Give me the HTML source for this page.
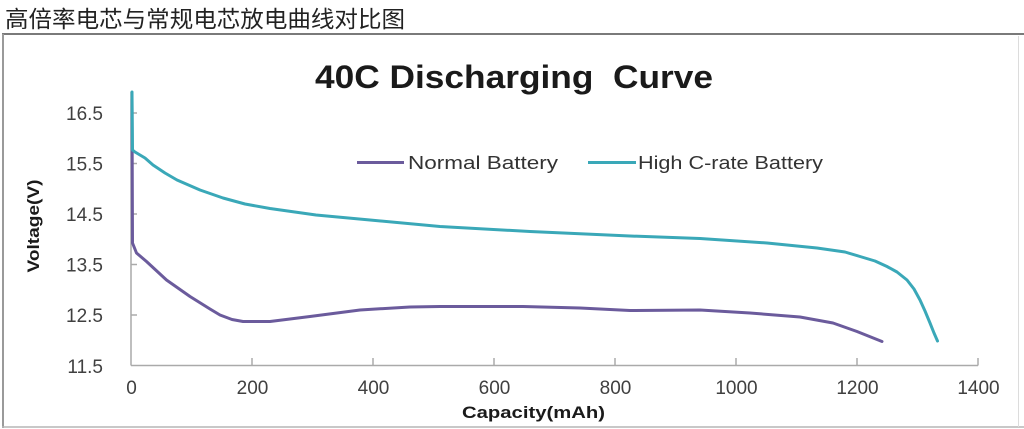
<!DOCTYPE html>
<html>
<head>
<meta charset="utf-8">
<style>
  html,body{margin:0;padding:0;background:#fff;}
  body{width:1024px;height:429px;overflow:hidden;}
  svg{display:block;}
</style>
</head>
<body>
<svg width="1024" height="429" viewBox="0 0 1024 429" xmlns="http://www.w3.org/2000/svg">
  <rect x="0" y="0" width="1024" height="429" fill="#ffffff"/>
  <!-- header -->
  <text x="5" y="27" font-family="'Liberation Sans','Noto Sans CJK SC',sans-serif" font-size="23" fill="#222" textLength="400" lengthAdjust="spacingAndGlyphs">高倍率电芯与常规电芯放电曲线对比图</text>
  <!-- frame -->
  <line x1="2" y1="34" x2="1024" y2="34" stroke="#7a7a7a" stroke-width="2"/>
  <line x1="3" y1="34" x2="3" y2="428" stroke="#9a9a9a" stroke-width="2"/>
  <line x1="2" y1="427" x2="1024" y2="427" stroke="#b5b5b5" stroke-width="1.5"/>
  <line x1="1018.5" y1="36" x2="1018.5" y2="427" stroke="#dcdcdc" stroke-width="1"/>

  <!-- title -->
  <text x="315" y="88" font-family="'Liberation Sans',sans-serif" font-weight="bold" font-size="32" fill="#1a1a1a" textLength="398" lengthAdjust="spacingAndGlyphs" xml:space="preserve">40C Discharging  Curve</text>

  <!-- axes -->
  <g stroke="#aaaaaa" stroke-width="1.5" fill="none">
    <line x1="131" y1="92" x2="131" y2="365.5"/>
    <line x1="131" y1="365.5" x2="978" y2="365.5"/>
    <line x1="131" y1="113" x2="137" y2="113"/>
    <line x1="131" y1="163.5" x2="137" y2="163.5"/>
    <line x1="131" y1="214" x2="137" y2="214"/>
    <line x1="131" y1="264.5" x2="137" y2="264.5"/>
    <line x1="131" y1="315" x2="137" y2="315"/>
    <line x1="252" y1="365.5" x2="252" y2="358"/>
    <line x1="373" y1="365.5" x2="373" y2="358"/>
    <line x1="494" y1="365.5" x2="494" y2="358"/>
    <line x1="615" y1="365.5" x2="615" y2="358"/>
    <line x1="736" y1="365.5" x2="736" y2="358"/>
    <line x1="857" y1="365.5" x2="857" y2="358"/>
    <line x1="978" y1="365.5" x2="978" y2="358"/>
  </g>

  <!-- y labels -->
  <g font-family="'Liberation Sans',sans-serif" font-size="19" fill="#404040" text-anchor="end">
    <text x="103" y="120">16.5</text>
    <text x="103" y="170.5">15.5</text>
    <text x="103" y="221">14.5</text>
    <text x="103" y="271.5">13.5</text>
    <text x="103" y="322">12.5</text>
    <text x="103" y="373">11.5</text>
  </g>
  <!-- x labels -->
  <g font-family="'Liberation Sans',sans-serif" font-size="19" fill="#404040" text-anchor="middle">
    <text x="131.5" y="394">0</text>
    <text x="252.5" y="394">200</text>
    <text x="373.5" y="394">400</text>
    <text x="494.5" y="394">600</text>
    <text x="615.5" y="394">800</text>
    <text x="736.5" y="394">1000</text>
    <text x="857.5" y="394">1200</text>
    <text x="978.5" y="394">1400</text>
  </g>

  <!-- axis titles -->
  <text x="462" y="418" font-family="'Liberation Sans',sans-serif" font-weight="bold" font-size="17" fill="#1a1a1a" textLength="143" lengthAdjust="spacingAndGlyphs">Capacity(mAh)</text>
  <text transform="translate(39,226) rotate(-90)" x="0" y="0" text-anchor="middle" font-family="'Liberation Sans',sans-serif" font-weight="bold" font-size="17" fill="#1a1a1a" textLength="93" lengthAdjust="spacingAndGlyphs">Voltage(V)</text>

  <!-- series -->
  <path d="M132,100 L132.5,243 L136.5,253 L146.5,261.5 L166.5,280 L190,296.5 L210,309 L220,315 L232,319.5 L243,321.5 L270,321.5 L310,316.5 L360,310 L410,307 L440,306.5 L470,306.5 L523,306.5 L580,308 L630,310.5 L700,310 L750,313 L800,317 L833,323 L857,331.5 L882,341.5" fill="none" stroke="#6b5b9c" stroke-width="3" stroke-linejoin="round" stroke-linecap="round"/>
  <path d="M132,92 L132.5,150 L135,152 L145,158 L153,165 L165,173 L177,180 L200,190 L223,198 L245,204 L270,208.5 L316,215 L370,220 L440,226.5 L530,231.5 L630,236 L700,238.5 L767,243 L817,248 L845,252 L860,256.5 L875,261 L887,266.5 L897,272 L907,280 L914,289 L920,300 L925,311 L930,323 L934,333 L937.5,341" fill="none" stroke="#3aa8b8" stroke-width="3" stroke-linejoin="round" stroke-linecap="round"/>

  <!-- legend -->
  <line x1="357" y1="162.5" x2="404" y2="162.5" stroke="#6b5b9c" stroke-width="3"/>
  <text x="408" y="169" font-family="'Liberation Sans',sans-serif" font-size="18" fill="#333" textLength="150" lengthAdjust="spacingAndGlyphs">Normal Battery</text>
  <line x1="588" y1="162.5" x2="636" y2="162.5" stroke="#3aa8b8" stroke-width="3"/>
  <text x="638" y="169" font-family="'Liberation Sans',sans-serif" font-size="18" fill="#333" textLength="185" lengthAdjust="spacingAndGlyphs">High C-rate Battery</text>
</svg>
</body>
</html>
